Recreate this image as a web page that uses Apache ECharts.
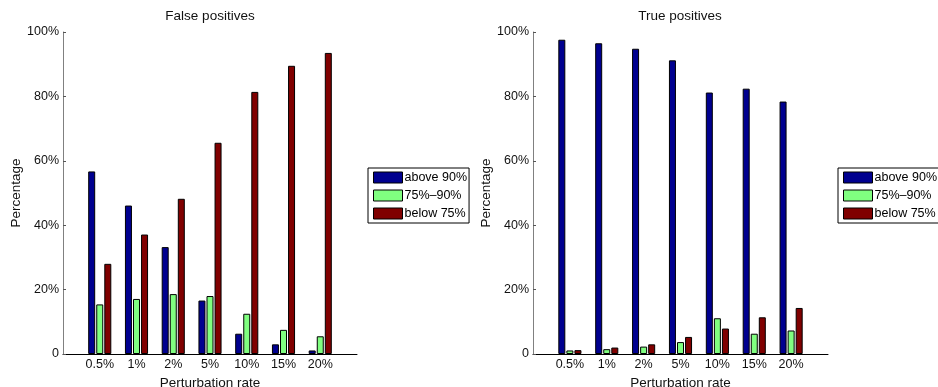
<!DOCTYPE html>
<html>
<head>
<meta charset="utf-8">
<script src="https://cdn.jsdelivr.net/npm/echarts@6/dist/echarts.min.js"></script>
<style>
html,body{margin:0;padding:0;background:#fff;}
#c{width:938px;height:387px;}
</style>
</head>
<body>
<div id="c"></div>
<script>
// ---- data ----
const categories = ['0.5%', '1%', '2%', '5%', '10%', '15%', '20%'];
const seriesNames = ['above 90%', '75%\u201390%', 'below 75%'];
const yTickLabels = ['0', '20%', '40%', '60%', '80%', '100%'];
const titles = ['False positives', 'True positives'];

// False positives
const fpAbove90 = [56.7, 46.1, 33.2, 16.6, 6.3, 3.0, 1.1];
const fp75to90  = [15.4, 17.1, 18.6, 18.0, 12.5, 7.5, 5.5];
const fpBelow75 = [28.0, 37.1, 48.2, 65.6, 81.4, 89.5, 93.5];

// True positives
const tpAbove90 = [97.6, 96.5, 94.8, 91.2, 81.2, 82.4, 78.4];
const tp75to90  = [1.1, 1.5, 2.3, 3.7, 11.1, 6.3, 7.3];
const tpBelow75 = [1.2, 2.0, 3.0, 5.3, 7.9, 11.4, 14.3];

// ---- chart ----
const colors = ['#00008F', '#80FF80', '#800000'];
const FONT = 'Liberation Sans, Arial, Helvetica, sans-serif';
const axisData = [''].concat(categories, ['']);
const pad = v => [null].concat(v, [null]);

const grids = [
  {left: 63, top: 32, width: 294, height: 322, outerBoundsMode: 'none', containLabel: false},
  {left: 533, top: 32, width: 295, height: 322, outerBoundsMode: 'none', containLabel: false}
];

function xAxis(i) {
  return {
    type: 'category', gridIndex: i, data: axisData, boundaryGap: false,
    axisLine: {lineStyle: {color: '#000', width: 1}},
    axisTick: {show: false},
    axisLabel: {color: '#111', fontSize: 12.5, fontFamily: FONT, margin: 4, interval: 0},
    splitLine: {show: false},
    name: 'Perturbation rate', nameLocation: 'middle', nameGap: 14,
    nameTextStyle: {color: '#111', fontSize: 13.5, fontFamily: FONT}
  };
}
function yAxis(i) {
  return {
    type: 'value', gridIndex: i, min: 0, max: 100, interval: 20,
    axisLine: {show: true, lineStyle: {color: '#808080', width: 1}},
    axisTick: {show: true, inside: true, length: 3, lineStyle: {color: '#555'}},
    axisLabel: {color: '#111', fontSize: 12.5, fontFamily: FONT, margin: 4,
      formatter: v => yTickLabels[Math.round(v / 20)]},
    splitLine: {show: false},
    name: 'Percentage', nameLocation: 'middle', nameGap: 35,
    nameTextStyle: {color: '#111', fontSize: 13.5, fontFamily: FONT}
  };
}

const dataSets = [
  [fpAbove90, fp75to90, fpBelow75],
  [tpAbove90, tp75to90, tpBelow75]
];
const series = [];
dataSets.forEach((ds, g) => {
  ds.forEach((vals, k) => {
    series.push({
      type: 'bar', name: seriesNames[k], xAxisIndex: g, yAxisIndex: g,
      data: pad(vals), barWidth: 7, barGap: '15%',
      itemStyle: {color: colors[k], borderColor: '#000', borderWidth: 1},
      emphasis: {disabled: true}, animation: false
    });
  });
});

function legend(left) {
  return {
    orient: 'vertical', left: left, top: 168,
    data: seriesNames.map(n => ({name: n, icon: 'rect'})),
    itemWidth: 29, itemHeight: 11, itemGap: 5,
    padding: [3, 2, 3, 5],
    backgroundColor: '#fff', borderColor: '#000', borderWidth: 1,
    borderRadius: 0,
    textStyle: {color: '#000', fontSize: 12.5, fontFamily: FONT, padding: [0, 0, 0, -3]},
    itemStyle: {borderColor: '#000', borderWidth: 1},
    selectedMode: false
  };
}

const option = {
  backgroundColor: '#fff',
  animation: false,
  title: [
    {text: titles[0], left: 210, top: 9, textAlign: 'center', padding: 0,
     textStyle: {color: '#111', fontSize: 13.5, fontWeight: 'normal', fontFamily: FONT}},
    {text: titles[1], left: 680, top: 9, textAlign: 'center', padding: 0,
     textStyle: {color: '#111', fontSize: 13.5, fontWeight: 'normal', fontFamily: FONT}}
  ],
  legend: [legend(368), legend(838)],
  grid: grids,
  xAxis: [xAxis(0), xAxis(1)],
  yAxis: [yAxis(0), yAxis(1)],
  series: series
};

const chart = echarts.init(document.getElementById('c'), null, {renderer: 'canvas'});
chart.setOption(option);
</script>
</body>
</html>
